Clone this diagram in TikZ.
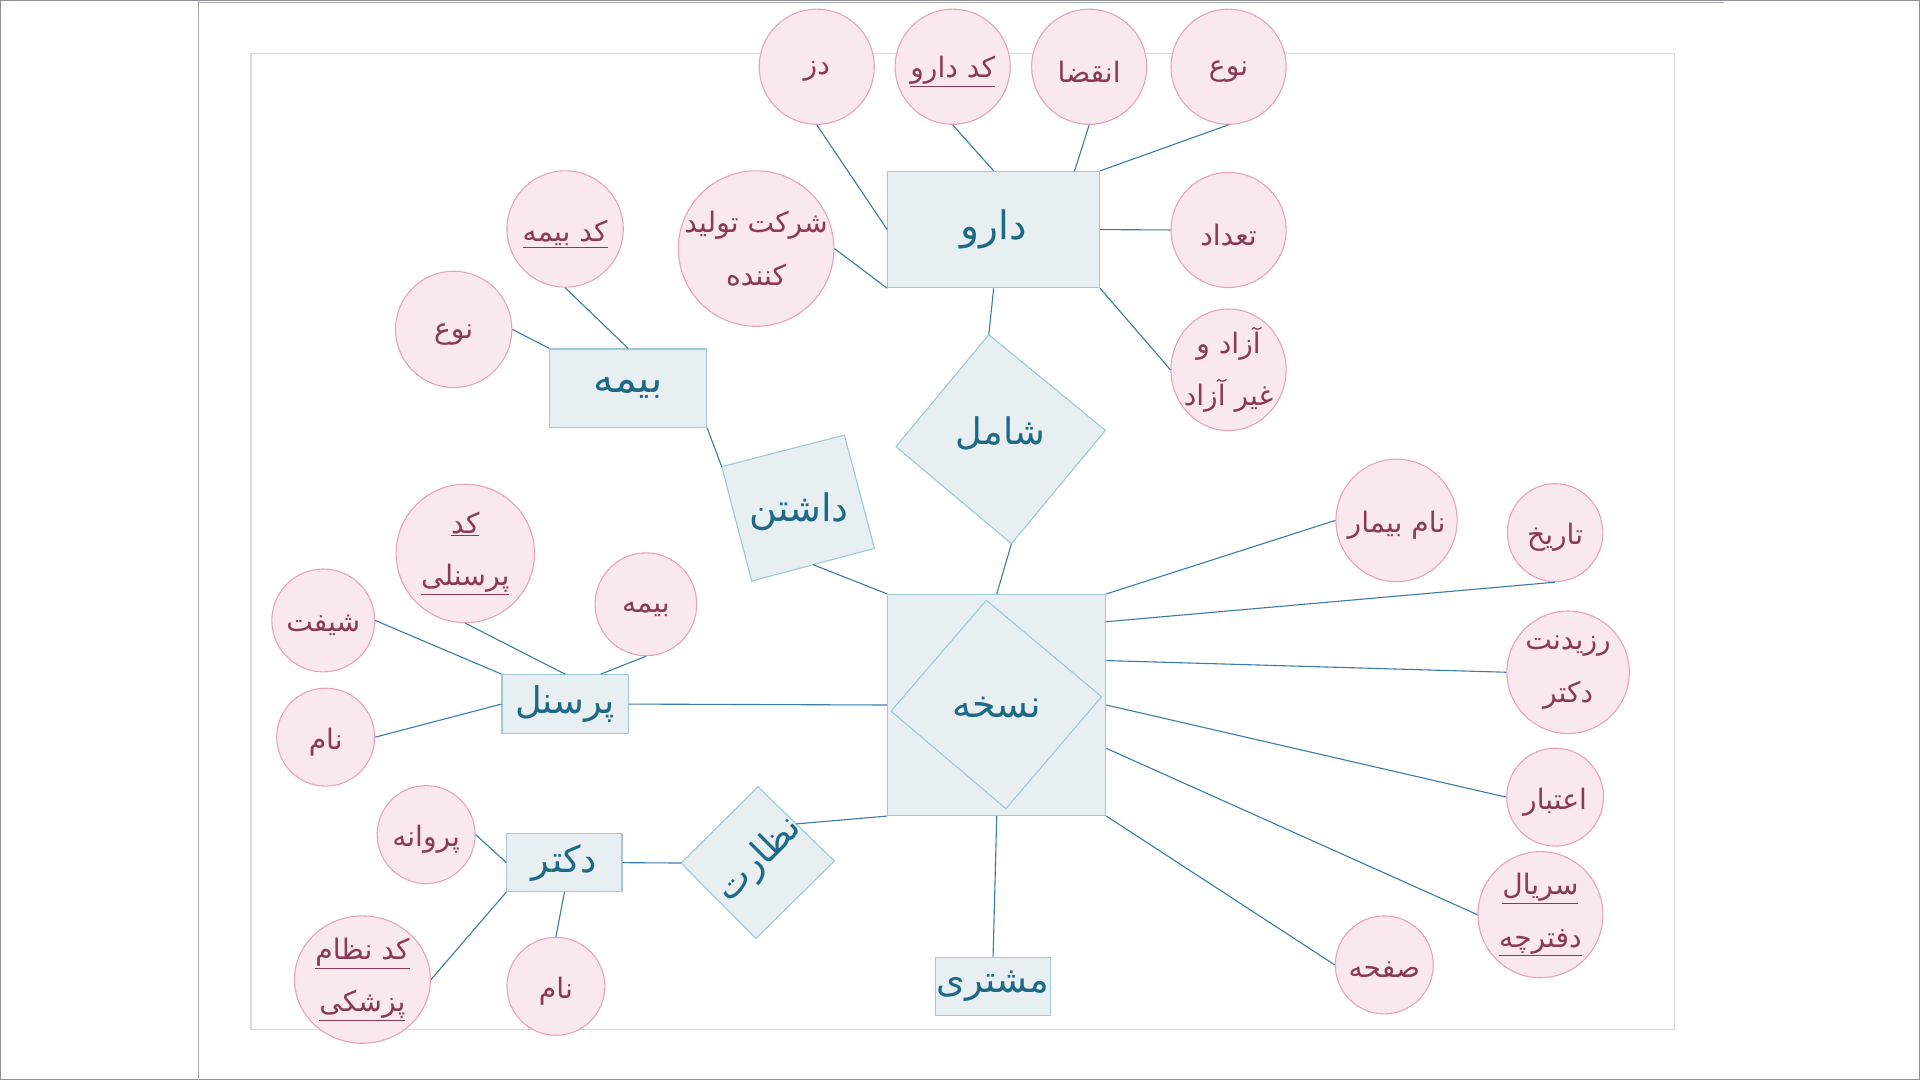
\documentclass[tikz,border=0pt]{standalone}
\usepackage{fontspec}
\usetikzlibrary{shapes.geometric,calc}
\newfontfamily\fa[Script=Arabic]{DejaVu Sans}
\TeXXeTstate=1
\newcommand\fr[1]{\beginR #1\endR}
\newcommand\fz[1]{\makebox[0pt]{\beginR #1\endR}}
\newcommand\fuz[1]{\makebox[0pt]{\underline{\beginR #1\endR}}}
\newcommand\fs[1]{\raisebox{-4pt}[\height][\depth]{\makebox[0pt]{\beginR #1\endR}}}
\newcommand\fus[1]{\raisebox{-4pt}[\height][\depth]{\makebox[0pt]{\underline{\beginR #1\endR}}}}
\definecolor{attrfill}{HTML}{F9E8EE}
\definecolor{attrline}{HTML}{E8A3B9}
\definecolor{attrtext}{HTML}{8A3A56}
\definecolor{entfill}{HTML}{E7EFF3}
\definecolor{entline}{HTML}{9FC8D8}
\definecolor{enttext}{HTML}{1E6A86}
\definecolor{linkc}{HTML}{3A7BAA}
\definecolor{framec}{HTML}{D9D9D9}
\definecolor{outerc}{HTML}{8E9198}
\begin{document}
\begin{tikzpicture}[x=1pt,y=-1pt,
  attr/.style={ellipse, draw=attrline, fill=attrfill, line width=0.9pt, inner sep=0pt,
    text=attrtext, font=\fa\fontsize{23}{43}\selectfont, align=center},
  ent/.style={rectangle, draw=entline, fill=entfill, line width=0.9pt, inner sep=0pt,
    text=enttext, font=\fa\fontsize{30}{36}\selectfont},
  relshape/.style={draw=entline, fill=entfill, line width=0.9pt},
  rellabel/.style={text=enttext, font=\fa\fontsize{30}{36}\selectfont, inner sep=0pt},
  conn/.style={draw=linkc, line width=0.9pt}]
\useasboundingbox (0,0) rectangle (1568,882);
% frame
\draw[outerc, line width=1.5pt] (0,0) rectangle (1568,882);
\draw[outerc!80, line width=1pt] (162,0) -- (162,882);
\draw[outerc!80, line width=1.2pt] (162,2) -- (1408,2);
\draw[framec, line width=1pt] (205,44) rectangle (1367.5,841);

% entities
\node[ent, minimum width=173pt, minimum height=95pt, font=\fa\fontsize{32}{36}\selectfont] (daru) at (811.5,187.5) {\fr{دارو}};
\node[ent, minimum width=128pt, minimum height=64pt, font=\fa\fontsize{33}{36}\selectfont] (bime) at (513,317) {\fr{بیمه}};
\node[ent, minimum width=103pt, minimum height=48pt] (personel) at (461.5,575) {\fr{پرسنل}};
\node[ent, minimum width=94pt, minimum height=47pt] (doctor) at (461,704.5) {\fr{دکتر}};
\node[ent, minimum width=94pt, minimum height=47pt] (moshtari) at (811,805.5) {\fr{مشتری}};
\node[ent, minimum width=178pt, minimum height=180.5pt] (noskhe) at (814,575.75) {};

% relationship shapes
\coordinate (shT) at (807.5,273.3);
\coordinate (shR) at (902.7,351.5);
\coordinate (shB) at (826,444);
\coordinate (shL) at (731.7,364.8);
\draw[relshape] (shT) -- (shR) -- (shB) -- (shL) -- cycle;
\node[rellabel] (shamel) at (817,354) {\fr{شامل}};

\coordinate (dTL) at (589.4,381.1);
\coordinate (dTR) at (689.6,355.3);
\coordinate (dBR) at (714.1,447.8);
\coordinate (dBL) at (613.9,474.5);
\draw[relshape] (dTL) -- (dTR) -- (dBR) -- (dBL) -- cycle;
\node[rellabel, font=\fa\fontsize{31}{36}\selectfont] (dashtan) at (652.5,418) {\fr{داشتن}};

\coordinate (nT) at (619,642.5);
\coordinate (nR) at (681.4,703.2);
\coordinate (nB) at (617.4,766.3);
\coordinate (nL) at (556.2,704.8);
\draw[relshape] (nT) -- (nR) -- (nB) -- (nL) -- cycle;
\node[rellabel, rotate=45] (nezarat) at (620,702) {\fr{نظارت}};

\coordinate (qT) at (805.5,490.2);
\coordinate (qR) at (899.6,569);
\coordinate (qB) at (821.5,660.4);
\coordinate (qL) at (727.7,580.8);
\draw[relshape] (qT) -- (qR) -- (qB) -- (qL) -- cycle;
\node[rellabel, font=\fa\fontsize{31}{36}\selectfont] (noskhelabel) at (814,578) {\fr{نسخه}};

% attributes of daru
\node[attr, minimum width=94pt, minimum height=94pt] (doz) at (667,54.5) {\fs{دز}};
\node[attr, minimum width=94pt, minimum height=94pt] (koddaru) at (778,54.5) {\fus{کد دارو}};
\node[attr, minimum width=94pt, minimum height=94pt] (enqeza) at (889.5,54.5) {\fs{انقضا}};
\node[attr, minimum width=94pt, minimum height=94pt] (noe1) at (1003.3,54.5) {\fs{نوع}};
\node[attr, minimum width=94pt, minimum height=94pt] (tedad) at (1003.3,187.8) {\fs{تعداد}};
\node[attr, minimum width=94pt, minimum height=94pt] (azad) at (1003.3,302) {\fz{آزاد و}\\\fz{غیر آزاد}};
\node[attr, minimum width=127pt, minimum height=127pt] (sherkat) at (617.5,203) {\fz{شرکت تولید}\\\fz{کننده}};

% attributes of bime
\node[attr, minimum width=95pt, minimum height=95pt] (kodbime) at (461.5,187) {\fus{کد بیمه}};
\node[attr, minimum width=95pt, minimum height=95pt] (noe2) at (370.5,269) {\fs{نوع}};

% attributes of personel
\node[attr, minimum width=113pt, minimum height=113pt] (kodpers) at (380,452) {\fuz{کد}\\\fuz{پرسنلی}};
\node[attr, minimum width=83pt, minimum height=84pt] (bime2) at (527.5,493.5) {\fs{بیمه}};
\node[attr, minimum width=84pt, minimum height=84pt] (shift) at (264,506.7) {\fs{شیفت}};
\node[attr, minimum width=80pt, minimum height=80pt] (nam1) at (266,602) {\fs{نام}};

% attributes of doctor
\node[attr, minimum width=80pt, minimum height=80pt] (parvane) at (348,681.6) {\fs{پروانه}};
\node[attr, minimum width=111pt, minimum height=104pt] (kodnezam) at (296,800) {\fuz{کد نظام}\\\fuz{پزشکی}};
\node[attr, minimum width=80pt, minimum height=80pt] (nam2) at (454,805.5) {\fs{نام}};

% attributes of noskhe
\node[attr, minimum width=99pt, minimum height=100pt] (nambimar) at (1140.5,425) {\fs{نام بیمار}};
\node[attr, minimum width=78pt, minimum height=80pt] (tarikh) at (1270,435) {\fs{تاریخ}};
\node[attr, minimum width=100pt, minimum height=100pt] (rezident) at (1280.6,549) {\fz{رزیدنت}\\\fz{دکتر}};
\node[attr, minimum width=79pt, minimum height=80pt] (etebar) at (1270,651) {\fs{اعتبار}};
\node[attr, minimum width=102pt, minimum height=103pt] (serial) at (1258,747) {\fuz{سریال}\\\fuz{دفترچه}};
\node[attr, minimum width=80pt, minimum height=80pt] (safhe) at (1130.5,788) {\fs{صفحه}};

% connectors
\draw[conn] (doz.south) -- (daru.west);
\draw[conn] (koddaru.south) -- (daru.north);
\draw[conn] (enqeza.south) -- ($(daru.north west)!0.88!(daru.north east)$);
\draw[conn] (noe1.south) -- (daru.north east);
\draw[conn] (tedad.west) -- (daru.east);
\draw[conn] (azad.west) -- (daru.south east);
\draw[conn] (sherkat.east) -- (daru.south west);
\draw[conn] (daru.south) -- (shT);
\draw[conn] (shB) -- (noskhe.north);

\draw[conn] (kodbime.south) -- (bime.north);
\draw[conn] (noe2.east) -- (bime.north west);
\draw[conn] (bime.south east) -- (dTL);
\draw[conn] ($(dBL)!0.5!(dBR)$) -- (noskhe.north west);

\draw[conn] (personel.east) -- (noskhe.west);
\draw[conn] (shift.east) -- (personel.north west);
\draw[conn] (kodpers.south) -- (personel.north);
\draw[conn] (bime2.south) -- ($(personel.north west)!0.78!(personel.north east)$);
\draw[conn] (nam1.east) -- (personel.west);

\draw[conn] (parvane.east) -- (doctor.west);
\draw[conn] (kodnezam.east) -- (doctor.south west);
\draw[conn] (nam2.north) -- (doctor.south);
\draw[conn] (doctor.east) -- (nL);
\draw[conn] ($(nT)!0.5!(nR)$) -- (noskhe.south west);

\draw[conn] (noskhe.south) -- (moshtari.north);
\draw[conn] (noskhe.north east) -- (nambimar.west);
\draw[conn] ($(noskhe.north east)!0.125!(noskhe.south east)$) -- (tarikh.south);
\draw[conn] ($(noskhe.north east)!0.3!(noskhe.south east)$) -- (rezident.west);
\draw[conn] (noskhe.east) -- (etebar.west);
\draw[conn] ($(noskhe.north east)!0.695!(noskhe.south east)$) -- (serial.west);
\draw[conn] (noskhe.south east) -- (safhe.west);
\end{tikzpicture}
\end{document}
